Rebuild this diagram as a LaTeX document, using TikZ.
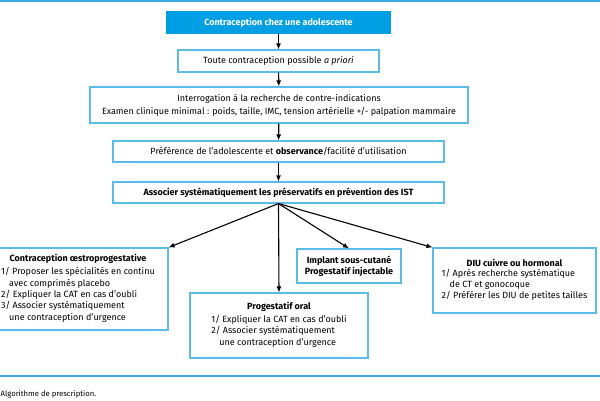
\documentclass[tikz,border=0pt]{standalone}
\usepackage{fontspec}
\setmainfont{Fira Sans}
\usetikzlibrary{arrows.meta}
\definecolor{mainblue}{HTML}{009FE3}
\definecolor{edgeblue}{HTML}{5BBDE6}
\definecolor{lineblue}{HTML}{3AAADC}
\tikzset{
  box/.style={draw=edgeblue, line width=1.1pt, fill=white, inner sep=0pt, align=center,
    font=\fontsize{9}{11.3}\selectfont},
  titlebox/.style={box, fill=mainblue, draw=mainblue, text=white, font=\fontsize{9}{11.3}\selectfont\bfseries},
  conn/.style={-{Latex[length=6pt,width=5pt]}, line width=1.1pt, black},
}
\newcommand{\ind}{\hspace*{8pt}}
\begin{document}
\begin{tikzpicture}[x=1pt,y=-1pt]
\useasboundingbox (0,0) rectangle (600,400);
\fill[lineblue] (0,0) rectangle (600,2);
\draw[lineblue, line width=1.2pt] (0,376) -- (600,376);
\node[titlebox, minimum width=223pt, minimum height=21pt] (t) at (278.5,22.5) {Contraception chez une adolescente};
\node[box, minimum width=201pt, minimum height=22pt] (b2) at (278.5,61) {Toute contraception possible \textit{a priori}};
\node[box, minimum width=378pt, minimum height=36pt, font=\fontsize{9}{13}\selectfont] (b3) at (279,105) {Interrogation à la recherche de contre-indications\\Examen clinique minimal : poids, taille, IMC, tension artérielle +/- palpation mammaire};
\node[box, minimum width=331pt, minimum height=21pt] (b4) at (278.5,151.5) {Préférence de l'adolescente et \textbf{observance}/facilité d'utilisation};
\node[box, minimum width=331pt, minimum height=21pt] (b5) at (278.5,192.5) {\textbf{Associer systématiquement les préservatifs en prévention des IST}};
\node[box, minimum width=180pt, minimum height=82pt] (oe) at (78,289) {\textbf{Contraception œstroprogestative}\\[2pt]
  \begin{tabular}{@{}l@{}}1/ Proposer les spécialités en continu\\ \ind avec comprimés placebo\\ 2/ Expliquer la CAT en cas d'oubli\\ 3/ Associer systématiquement\\ \ind une contraception d'urgence\end{tabular}};
\node[box, minimum width=178pt, minimum height=65pt] (po) at (279,325.5) {\textbf{Progestatif oral}\\[2pt]
  \begin{tabular}{@{}l@{}}1/ Expliquer la CAT en cas d'oubli\\ 2/ Associer systématiquement\\ \ind une contraception d'urgence\end{tabular}};
\node[box, minimum width=104pt, minimum height=34pt, font=\fontsize{9}{10.5}\selectfont\bfseries] (im) at (349,266) {Implant sous-cutané\\Progestatif injectable};
\node[box, minimum width=163pt, minimum height=65pt] (diu) at (514.5,280.5) {\textbf{DIU cuivre ou hormonal}\\[1pt]
  \begin{tabular}{@{}l@{}}1/ Après recherche systématique\\ \ind de CT et gonocoque\\ 2/ Préférer les DIU de petites tailles\end{tabular}};
\node[anchor=west, inner sep=0pt, font=\fontsize{7.7}{9}\selectfont] (cap) at (0.5,394) {Algorithme de prescription.};
\draw[conn] (t) -- (b2);
\draw[conn] (b2) -- (b3);
\draw[conn] (b3) -- (b4);
\draw[conn] (b4) -- (b5);
\draw[conn] (b5.south) -- (oe.north east);
\draw[conn] (b5.south) -- (po.north);
\draw[conn] (b5.south) -- (im.north);
\draw[conn] (b5.south) -- (diu.north west);
\end{tikzpicture}
\end{document}
